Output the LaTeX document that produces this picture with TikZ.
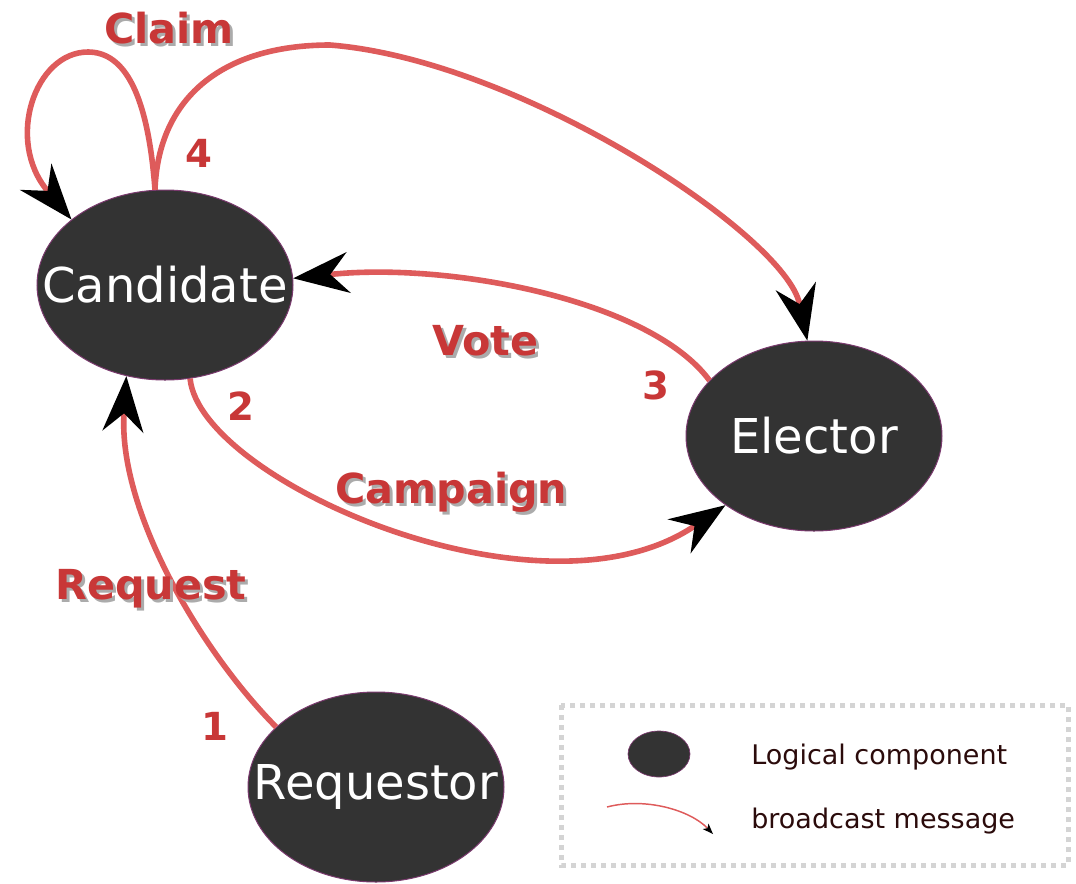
\documentclass[tikz,border=0pt]{standalone}
\usepackage{fontspec}
\setmainfont{DejaVu Sans}
\usetikzlibrary{arrows.meta,shapes.geometric,calc}
\definecolor{nodefill}{HTML}{333333}
\definecolor{nodeedge}{HTML}{7A3A6E}
\definecolor{msgline}{HTML}{DE5B5B}
\definecolor{msgtext}{HTML}{C83737}
\definecolor{shadowgray}{HTML}{ABABAB}
\definecolor{legendtext}{HTML}{2B0B0B}
\definecolor{legendframe}{HTML}{D4D4D4}
% label with a soft drop shadow
\newcommand\msglabel[3]{%
  \node[lblshadow] at ($(#1)+(3,3)$) {#3};
  \node[lbl] (#2) at (#1) {#3};}
\begin{document}
\begin{tikzpicture}[x=0.75pt,y=-0.75pt,
  comp/.style={ellipse, fill=nodefill, draw=nodeedge, line width=0.75pt,
    minimum width=192pt, minimum height=142.5pt, inner sep=0pt},
  comptext/.style={text=white, font=\fontsize{36}{40}\selectfont},
  msg/.style={draw=msgline, line width=4.2pt,
    -{Stealth[length=42pt,width=31pt,inset=14pt,color=black,fill=black,line width=0pt]}},
  lbl/.style={anchor=base west, inner sep=0pt, text=msgtext, font=\fontsize{31}{34}\selectfont\bfseries},
  lblshadow/.style={lbl, text=shadowgray},
  num/.style={anchor=base, inner sep=0pt, text=msgtext, font=\fontsize{29}{32}\selectfont\bfseries},
  legendtxt/.style={anchor=base west, inner sep=0pt, text=legendtext, font=\fontsize{20.25}{24}\selectfont},
  legendmsg/.style={draw=msgline, line width=1.1pt,
    -{Stealth[length=8pt,width=6pt,inset=2pt,color=black,fill=black,line width=0pt]}}]
\useasboundingbox (0,0) rectangle (1076,883);

% components
\node[comp] (cand) at (165,285) {};
\node[comptext] at (cand) {Candidate};
\node[comp] (elec) at (814,436) {};
\node[comptext] at (elec) {Elector};
\node[comp] (req) at (376,787) {};
\node[comptext] at (req) {Requestor};

% messages
\draw[msg] (req.149) .. controls (200,650) and (118,510) .. (cand.247);
\draw[msg] (cand.-75) .. controls (200,480) and (540,630) .. (elec.218);
\draw[msg] (elec.152) .. controls (650,300) and (450,262) .. (cand.3);
\draw[msg] (cand.96) .. controls (158,100) and (220,45) .. (330,45)
  .. controls (520,60) and (785,235) .. (elec.94);
\draw[msg] (cand.96) .. controls (148,95) and (125,52) .. (88,52)
  .. controls (35,52) and (5,140) .. (cand.145);

% message labels
\coordinate (pclaim) at (104,43);
\coordinate (pvote) at (432,355);
\coordinate (pcamp) at (335,503);
\coordinate (preq) at (55,599);
\msglabel{pclaim}{lclaim}{Claim}
\msglabel{pvote}{lvote}{Vote}
\msglabel{pcamp}{lcamp}{Campaign}
\msglabel{preq}{lreq}{Request}

% step numbers
\node[num] (n1) at (215,740) {1};
\node[num] (n2) at (241,420) {2};
\node[num] (n3) at (656,399) {3};
\node[num] (n4) at (199,167) {4};

% legend
\draw[legendframe, line width=3.75pt, dash pattern=on 3.4pt off 4.1pt] (561,705) rectangle (1068,865);
\node[ellipse, fill=nodefill, draw=nodeedge, line width=0.5pt, minimum width=46.5pt,
  minimum height=34.5pt, inner sep=0pt] (lcomp) at (659,754) {};
\node[legendtxt] (tcomp) at (751,764) {Logical component};
\coordinate (la) at (607,807);
\coordinate (lb) at (713,834);
\draw[legendmsg] (la) .. controls (645,797) and (690,810) .. (lb);
\node[legendtxt] (tmsg) at (751,828) {broadcast message};
\end{tikzpicture}
\end{document}
